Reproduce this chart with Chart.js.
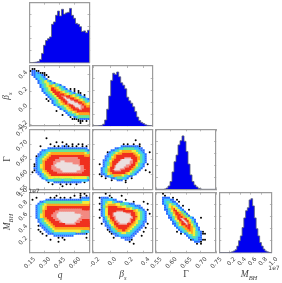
<!DOCTYPE html>
<html>
<head>
<meta charset="utf-8">
<title>Corner plot</title>
<script src="https://cdn.jsdelivr.net/npm/chart.js@4/dist/chart.umd.min.js"></script>
<style>
    html, body { margin: 0; padding: 0; background: #fff; overflow: hidden; }
    #page { position: relative; width: 282px; height: 283px; }
    #page canvas { position: absolute; left: 0; top: 0; filter: blur(0.4px); }
    .label { position: absolute; z-index: 2; transform: translate(-50%, -50%); font-family: "Liberation Serif", serif; font-size: 9.5px; font-style: italic; color: #444; white-space: nowrap; }
    .label sub { font-size: 6.5px; }
    .turn { transform: translate(-50%, -50%) rotate(-90deg); }
    .offset { position: absolute; z-index: 2; transform: translate(-50%, -50%); font-family: "DejaVu Sans", sans-serif; font-size: 6px; color: #444; }
</style>
</head>
<body>
<div id="page">
    <div class="label" style="left:60px;top:275px">q</div>
    <div class="label" style="left:123px;top:275px">&beta;<sub>s</sub></div>
    <div class="label" style="left:186px;top:274px;font-style:normal">&Gamma;</div>
    <div class="label" style="left:249px;top:275px">M<sub>BH</sub></div>
    <div class="label turn" style="left:7px;top:96px">&beta;<sub>s</sub></div>
    <div class="label turn" style="left:7px;top:159px;font-style:normal">&Gamma;</div>
    <div class="label turn" style="left:8px;top:222px">M<sub>BH</sub></div>
    <div class="offset" style="left:34px;top:190px">1e7</div>
    <div class="offset" style="left:274px;top:267px">1e7</div>
</div>
<script>
const qTicks = [0.15, 0.30, 0.45, 0.60, 0.75];
const qLabels = ['0.15', '0.30', '0.45', '0.60', ''];
const betaTicks = [-0.2, 0.0, 0.2, 0.4];
const betaLabels = ['-0.2', '0.0', '0.2', '0.4'];
const gammaTicks = [0.55, 0.60, 0.65, 0.70, 0.75];
const gammaLabels = ['0.55', '0.60', '0.65', '0.70', '0.75'];
const mbhTicks = [0.0, 0.2, 0.4, 0.6, 0.8, 1.0];
const mbhLabels = ['', '0.2', '0.4', '0.6', '0.8', '1.0'];
const histTicks = [20, 40, 60, 80];
const histLabels = ['', '', '', ''];

// histogram heights, 30 bins across each axis
const qHist = [0, 0, 0.5, 1, 2, 5.5, 15.5, 29, 37, 40, 43, 64, 68, 79, 86, 78, 89, 81, 83, 84, 90.5, 79, 74, 65.5, 64, 60, 52, 53, 50, 54];
const betaHist = [0, 0, 0, 0.5, 1, 3, 10, 28, 50, 76, 88, 86, 90, 82, 72, 68, 62, 48, 42, 38, 32, 24, 15, 9, 6, 4, 2, 1, 0.5, 0];
const gammaHist = [0, 0, 0, 0, 0.5, 2, 5.5, 13, 29, 46, 57, 74, 81, 89, 80, 63, 42, 24, 13, 7, 4, 1.5, 0.5, 0, 0, 0, 0, 0, 0, 0];
const mbhHist = [0, 0, 0, 0, 0, 0, 0.5, 1.5, 3, 5, 11, 20, 28, 42, 58, 70, 75, 88, 90, 78, 58, 40, 28, 17, 11, 6, 3, 1.5, 0.5, 0];

// 2d density, 30x30 cells from the top left: 0 empty, 1-8 density level, 9 lone sample
const betaVsQ = [
    "000000000000000000000000000000",
    "099000000000000000000000000000",
    "911990000000000000000000000000",
    "011219990000000000000000000000",
    "011222199000000000000000000000",
    "001223210900000000000000000000",
    "000123321000000000000000000000",
    "000012344210000000000000000000",
    "000012345432100000000000000000",
    "000001234565432100000000000000",
    "000001234566654321000000000000",
    "000000123466665432109090000000",
    "000000123566667654321090900000",
    "000000012346677766543210990000",
    "000000001234667887766543210900",
    "000000000123466788877665432100",
    "000000009012346678888776654321",
    "000000000901234667888887766532",
    "000000000001234566788888877654",
    "000000000000123456778888887765",
    "000000000000001234566788888776",
    "000000000000000123456677887766",
    "000000000000090001245666777666",
    "000000000000000000123456666666",
    "000000000000000090012234555555",
    "000000000000000000009012333333",
    "000000000000000000000999911111",
    "000000000000000000000000999090",
    "000000000000000000000000090000",
    "000000000000000000000000000000"
];
const gammaVsQ = [
    "000000000000000000000000000000",
    "000000000000000000000000000000",
    "000000000000000000000000000000",
    "000000000000000000000000000000",
    "000000009000000000000000000000",
    "000000000000000000000000000000",
    "000000000000090090000000000000",
    "000000000090000000900900909000",
    "000009000000909019190909009090",
    "000000000111111111111111111110",
    "000000112233333333333333333321",
    "000001223455555555555555555543",
    "000011234566666666666666666655",
    "000912345666667777777777766666",
    "000123456666777777777777777666",
    "000123566667777888777777776666",
    "000123566667788888888877776666",
    "009124566677888888888888877766",
    "009124566677888888888888887766",
    "001124566677788888888888887776",
    "009123566677777888888888887776",
    "090112456667777788888888777766",
    "000011245666677777777777777666",
    "000001234566666666666666666666",
    "000000123454545444444454444443",
    "000000001222333323333222222221",
    "000000000900111111111111110900",
    "000000000009000900909009000000",
    "000000000000000090000000000000",
    "000000000000000000000000000000"
];
const mbhVsQ = [
    "000000000000000000000000090900",
    "000000000000090000000090090090",
    "000900000090900909009000091111",
    "090000001111111111111111112222",
    "000001123333333333333333334444",
    "000012345555555555555555555555",
    "000123456666666666666666666666",
    "000123456666667777777777777666",
    "000123566666777777777777777777",
    "000123566667778888888887777777",
    "000124566677788888888888887777",
    "000124566677788888888888888777",
    "000124566677788888888888887777",
    "000012356667778888888888877777",
    "000012345666777888888888777666",
    "000001234566667788888887776666",
    "000091123456666667777777666666",
    "000000112345666666666666666666",
    "000090011234555555555555555555",
    "000009001123444444444444443322",
    "000000900111222222222221111190",
    "000000009000111111111100000000",
    "000000000000009090000000000090",
    "000000000090000009000000000000",
    "000000000000009000000000000000",
    "000000000000000000000000000000",
    "000000000000000000000000000000",
    "000000000000000000000000000000",
    "000000000000000000000000000000",
    "000000000000000000000000000000"
];
const gammaVsBeta = [
    "000000000000000000000000000000",
    "000000000000000000000000000000",
    "000000000000000000000000000000",
    "000000000000000000000000000000",
    "000000000000000000000000000000",
    "000000000000000000000900000000",
    "000000000000000000000000000000",
    "000000000000000909009009000000",
    "000000000000001111111119000000",
    "000000000001122333333221100000",
    "000000000112345555554432110000",
    "000000091234556666666543210090",
    "000000012356666666666654321000",
    "000000112456666777776665321000",
    "000000123566678888887665321000",
    "000001124666788888887665321000",
    "000001235667888888877664321000",
    "000901235678888888877653210900",
    "000001246678888887776643210000",
    "000012356788888877766532100000",
    "000012356788887776665321009000",
    "000012356677777666643210000090",
    "000911245666666665432100000000",
    "000090112355555432110000000000",
    "000000900112333221090000000000",
    "000000000900111090000000000000",
    "000000000000000090000000000000",
    "000000000000000000000000000000",
    "000000000000000000000000000000",
    "000000000000000000000000000000"
];
const mbhVsBeta = [
    "000000900000000000000000000000",
    "000000009000009000000000000000",
    "000911110900000000000000000000",
    "000012222211000090000000000000",
    "000012344432111000009000090000",
    "000912455555443322111000000900",
    "000013566666655443322111000000",
    "000013566666666665543221100000",
    "000912466667777766666543210900",
    "000012466788888887776654321000",
    "000012466788888888876654321090",
    "000012466788888888887664321000",
    "000901356778888888887664321000",
    "000001246678888888877654321000",
    "000001135677888888876643211000",
    "000090124567788888776543210900",
    "000000112466777777665432110000",
    "000000011356666666654321109000",
    "000000091235666666543211000000",
    "000000009123556665432110090000",
    "000000000911234443321100000000",
    "000000000001122222211000900000",
    "000000000090001111110000000000",
    "000000000000000011190000000000",
    "000000000000000000900000000000",
    "000000000000000000009000000000",
    "000000000000000000000000000000",
    "000000000000000000000000000000",
    "000000000000000000000000000000",
    "000000000000000000000000000000"
];
const mbhVsGamma = [
    "000900000000000000000000000000",
    "000090000000000000000000000000",
    "000111109000000000000000000000",
    "000122211090000000000000000000",
    "000123321109000000000000000000",
    "000123443210000000000000000000",
    "000012455421090000000000000000",
    "000012456642100000000000000000",
    "000011356664210090000000000000",
    "000001246666531000000000000000",
    "000001235677653100000000000000",
    "000000124678765310000000000000",
    "000000113567887642100090000000",
    "000000012467888764210000000000",
    "000000001246788875310000000000",
    "000000001135678876421000000000",
    "000000000124667876531000000000",
    "000000000012356776542100000000",
    "000000000001235666542100000000",
    "000000000090123566543219000000",
    "000000000000901245543219900000",
    "000000000000000123443210000000",
    "000000000000000012332110000000",
    "000000000000000009122119900000",
    "000000000000000000011190000000",
    "000000000000000000009090000000",
    "000000000000000000000000000000",
    "000000000000000000000000000000",
    "000000000000000000000000000000",
    "000000000000000000000000000000"
];

const qAxis = { min: 0.15, max: 0.75, ticks: qTicks, labels: qLabels };
const betaAxis = { min: -0.215, max: 0.505, ticks: betaTicks, labels: betaLabels };
const gammaAxis = { min: 0.55, max: 0.75, ticks: gammaTicks, labels: gammaLabels };
const mbhAxis = { min: 0, max: 1, ticks: mbhTicks, labels: mbhLabels };
const histAxis = { min: 0, max: 100, ticks: histTicks, labels: histLabels };

const levelColors = ['#2a6cff', '#3cc4ff', '#62e59a', '#f2ee3c', '#ffa51f', '#f0301f', '#f28a82', '#ecdfdf'];
// half width of a cell per level: the warm levels spread out so the outer bands stay thin
const levelHalf = [1.0, 1.35, 1.7, 2.05, 2.4, 2.6, 1.9, 1.7];
const colLeft = [29.5, 92.7, 156, 219.3];
const rowTop = [2.7, 66, 129.3, 192.7];
const panelSize = 60;
const pageW = 282, pageH = 283;
const frameColor = '#9c9c9c';

function scaleOptions(axis, position, showLabels, room) {
    const horizontal = position === 'bottom' || position === 'top';
    return {
        type: 'linear',
        position: position,
        min: axis.min,
        max: axis.max,
        afterBuildTicks: s => { s.ticks = axis.ticks.map(v => ({ value: v })); },
        // labels are clipped to the scale box, so a labelled axis keeps all the room to the page edge
        afterFit: s => { if (horizontal) s.height = room; else s.width = room; },
        border: { display: true, color: frameColor, width: 1.2 },
        grid: { drawOnChartArea: false, drawTicks: true, tickLength: -2, color: '#8c8c8c', lineWidth: 0.6 },
        ticks: {
            display: showLabels,
            autoSkip: false,
            minRotation: 45,
            maxRotation: 45,
            padding: 5,
            labelOffset: position === 'bottom' ? 5 : -3.4,
            color: '#444',
            font: { family: 'DejaVu Sans', size: 6 },
            callback: (v, i) => axis.labels[i]
        }
    };
}

function makePanel(col, row, type, datasets, xAxis, yAxis) {
    const canvas = document.createElement('canvas');
    canvas.width = pageW;
    canvas.height = pageH;
    document.getElementById('page').appendChild(canvas);
    const right = pageW - colLeft[col] - panelSize;
    const bottom = pageH - rowTop[row] - panelSize;
    const xLabels = row === 3;
    const yLabels = col === 0 && row > 0;
    new Chart(canvas, {
        type: type,
        data: { datasets: datasets },
        options: {
            responsive: false,
            animation: false,
            devicePixelRatio: 1,
            events: [],
            layout: {
                autoPadding: false,
                padding: {
                    left: yLabels ? 0 : colLeft[col],
                    top: rowTop[row],
                    right: right,
                    bottom: xLabels ? 0 : bottom
                }
            },
            plugins: { legend: { display: false }, tooltip: { enabled: false } },
            scales: {
                x: scaleOptions(xAxis, 'bottom', xLabels, xLabels ? bottom : 0),
                y: scaleOptions(yAxis, 'left', yLabels, yLabels ? colLeft[col] : 0),
                xTop: scaleOptions(xAxis, 'top', false, 0),
                yRight: scaleOptions(yAxis, 'right', false, 0)
            }
        }
    });
}

function histPanel(col, row, values, axis) {
    const width = (axis.max - axis.min) / values.length;
    const points = values.map((h, i) => ({ x: axis.min + i * width, y: h }));
    points.push({ x: axis.max, y: values[values.length - 1] });
    makePanel(col, row, 'line', [{
        data: points,
        stepped: 'before',
        fill: 'origin',
        backgroundColor: '#0000f0',
        borderColor: '#5c6078',
        borderWidth: 0.8,
        pointRadius: 0
    }], axis, histAxis);
}

function densityPanel(col, row, grid, xAxis, yAxis) {
    const dx = (xAxis.max - xAxis.min) / 30;
    const dy = (yAxis.max - yAxis.min) / 30;
    const byLevel = {};
    grid.forEach((line, r) => {
        for (let c = 0; c < line.length; c++) {
            const level = line[c];
            if (level === '0') continue;
            (byLevel[level] = byLevel[level] || []).push({
                x: xAxis.min + (c + 0.5) * dx,
                y: yAxis.max - (r + 0.5) * dy
            });
        }
    });
    const datasets = levelColors.map((color, i) => ({
        data: byLevel[i + 1] || [],
        pointStyle: 'rect',
        pointRadius: levelHalf[i] * Math.SQRT2,
        pointBorderWidth: 0,
        backgroundColor: color,
        borderWidth: 0
    }));
    datasets.push({
        data: byLevel[9] || [],
        pointStyle: 'circle',
        pointRadius: 1,
        pointBorderWidth: 0,
        backgroundColor: '#000',
        borderWidth: 0
    });
    makePanel(col, row, 'scatter', datasets, xAxis, yAxis);
}

histPanel(0, 0, qHist, qAxis);
histPanel(1, 1, betaHist, betaAxis);
histPanel(2, 2, gammaHist, gammaAxis);
histPanel(3, 3, mbhHist, mbhAxis);
densityPanel(0, 1, betaVsQ, qAxis, betaAxis);
densityPanel(0, 2, gammaVsQ, qAxis, gammaAxis);
densityPanel(0, 3, mbhVsQ, qAxis, mbhAxis);
densityPanel(1, 2, gammaVsBeta, betaAxis, gammaAxis);
densityPanel(1, 3, mbhVsBeta, betaAxis, mbhAxis);
densityPanel(2, 3, mbhVsGamma, gammaAxis, mbhAxis);
</script>
</body>
</html>
